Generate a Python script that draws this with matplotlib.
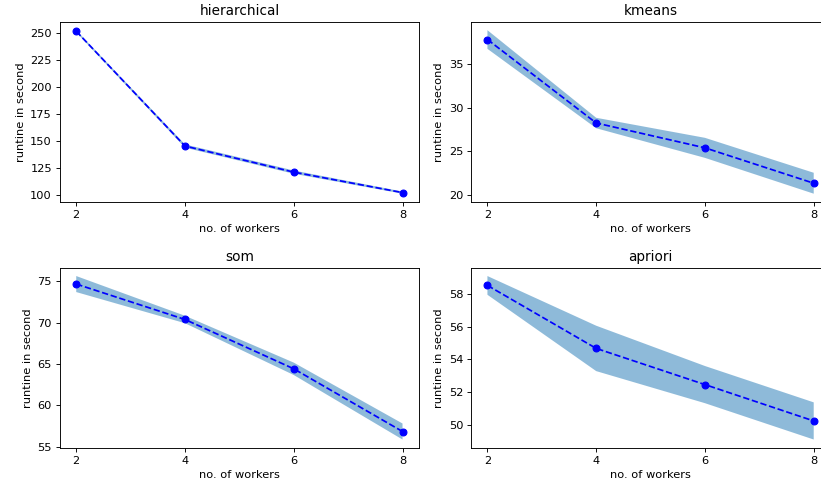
import matplotlib.pyplot as plt
import numpy as np

workers = [2, 4, 6, 8]

titles = ['hierarchical', 'kmeans', 'som', 'apriori']
hier_mean = [251.7, 145.2, 121.0, 102.0]
hier_std = [1.0, 1.5, 1.5, 1.0]
kmeans_mean = [37.83, 28.25, 25.4, 21.34]
kmeans_std = [1.07, 0.6, 1.15, 1.2]
som_mean = [74.67, 70.38, 64.41, 56.82]
som_std = [0.97, 0.45, 0.75, 0.97]
apriori_mean = [58.5, 54.67, 52.47, 50.26]
apriori_std = [0.57, 1.38, 1.13, 1.13]

means = [hier_mean, kmeans_mean, som_mean, apriori_mean]
stds = [hier_std, kmeans_std, som_std, apriori_std]

DPI = 82
fig, axes = plt.subplots(2, 2, figsize=(821 / DPI, 486 / DPI), dpi=DPI)
# the original image is cropped on the right, so the right column runs off the canvas
plt.subplots_adjust(left=0.073, right=1.011, top=0.9547, bottom=0.0788,
                    wspace=0.1457, hspace=0.367)

for ax, title, m, s in zip(axes.flat, titles, means, stds):
    m = np.array(m)
    s = np.array(s)
    ax.plot(workers, m, 'bo--')
    ax.fill_between(workers, m - s, m + s, alpha=0.5)
    ax.set_title(title)
    ax.set_xlabel('no. of workers')
    ax.set_ylabel('runtine in second')
    ax.set_xticks(workers)

fig.savefig('out.png', dpi=DPI)
